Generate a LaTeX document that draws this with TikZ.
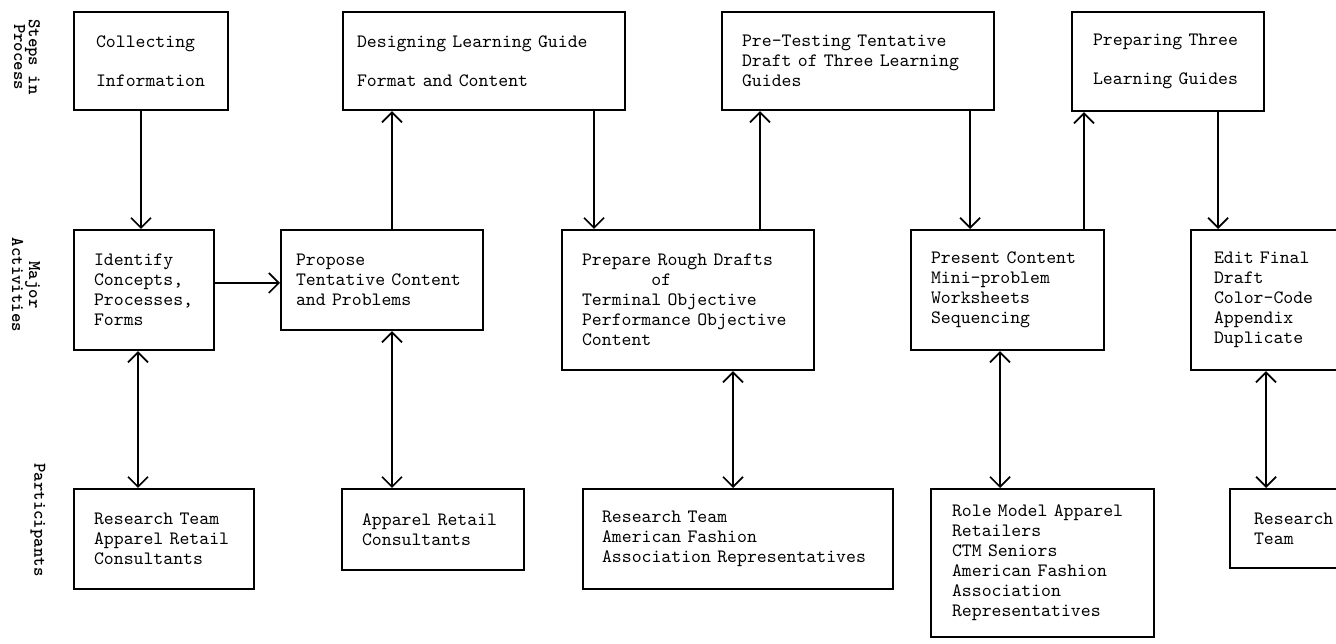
\documentclass[tikz,border=0pt]{standalone}
\usepackage{fontspec}
\usepackage{tikz}
\usetikzlibrary{arrows.meta,positioning}
\tikzset{
  stepbox/.style={draw,line width=1.2pt,anchor=north west,align=left,
    inner sep=0pt},
  rowlabel/.style={rotate=-90,align=center,
    font=\ttfamily\bfseries\fontsize{10.2}{8.5}\selectfont},
  every node/.style={font=\ttfamily\fontsize{10.74}{11.38}\selectfont}
}
\tikzstyle{flow} = [line width=1pt,-{Straight Barb[length=2mm,width=4mm]}]
\tikzstyle{twoway} = [line width=1pt,
  {Straight Barb[length=2mm,width=4mm]}-{Straight Barb[length=2mm,width=4mm]}]

\begin{document}
\begin{tikzpicture}[x=0.02cm,y=-0.02cm]
  \useasboundingbox (0,0) rectangle (1336,644);
  % Row labels
  \node[rowlabel] (lsteps) at (27,57) {Steps in\\Process};
  \node[rowlabel] (lmajor) at (26,285) {Major\\Activities};
  \node[rowlabel] (lpart) at (38,520) {Participants};
  % Steps in process
  \node[stepbox,minimum width=3.08cm,minimum height=1.96cm,text width=2.20cm]
    (a1) at (73,11) {Collecting\\[0.38cm]Information};
  \node[stepbox,minimum width=5.64cm,minimum height=1.96cm,text width=5.08cm]
    (b1) at (342,11) {Designing Learning Guide\\[0.38cm]Format and Content};
  \node[stepbox,minimum width=5.44cm,minimum height=1.96cm,text width=4.64cm]
    (c1) at (721,11) {Pre-Testing Tentative\\Draft of Three Learning\\Guides};
  \node[stepbox,minimum width=3.84cm,minimum height=1.98cm,text width=3.00cm]
    (d1) at (1071,11) {Preparing Three\\[0.38cm]Learning Guides};
  % Major activities
  \node[stepbox,minimum width=2.80cm,minimum height=2.40cm,text width=2.00cm]
    (a2) at (73,229) {Identify\\Concepts,\\Processes,\\Forms};
  \node[stepbox,minimum width=4.04cm,minimum height=2.00cm,text width=3.44cm]
    (b2) at (280,229) {Propose\\Tentative Content\\and Problems};
  \node[stepbox,minimum width=5.04cm,minimum height=2.80cm,text width=4.24cm]
    (c2) at (561,229) {Prepare Rough Drafts\\\hphantom{Prepare}of\\
      Terminal Objective\\Performance Objective\\Content};
  \node[stepbox,minimum width=3.86cm,minimum height=2.40cm,text width=3.06cm]
    (d2) at (910,229) {Present Content\\Mini-problem\\Worksheets\\Sequencing};
  \node[stepbox,minimum width=3.10cm,minimum height=2.80cm,text width=2.18cm]
    (e2) at (1190,229) {Edit Final\\Draft\\Color-Code\\Appendix\\Duplicate};
  % Participants
  \node[stepbox,minimum width=3.60cm,minimum height=2.00cm,text width=2.80cm]
    (a3) at (73,488) {Research Team\\Apparel Retail\\Consultants};
  \node[stepbox,minimum width=3.64cm,minimum height=1.62cm,text width=2.84cm]
    (b3) at (341,488) {Apparel Retail\\Consultants};
  \node[stepbox,minimum width=6.20cm,minimum height=2.00cm,text width=5.44cm]
    (c3) at (582,488) {Research Team\\American Fashion\\Association Representatives};
  \node[stepbox,minimum width=4.46cm,minimum height=2.96cm,text width=3.62cm]
    (d3) at (930,488) {Role Model Apparel\\Retailers\\CTM Seniors\\
      American Fashion\\Association\\Representatives};
  \node[stepbox,minimum width=2.80cm,minimum height=1.58cm,text width=1.84cm]
    (e3) at (1229,488) {Research\\Team};
  % Connectors between steps and activities
  \draw[flow] (a1.south -| 141,0) -- (a2.north -| 141,0);
  \draw[flow] (a2.east |- 0,283) -- (b2.west |- 0,283);
  \draw[flow] (b2.north -| 392,0) -- (b1.south -| 392,0);
  \draw[flow] (b1.south -| 594,0) -- (c2.north -| 594,0);
  \draw[flow] (c2.north -| 760,0) -- (c1.south -| 760,0);
  \draw[flow] (c1.south -| 970,0) -- (d2.north -| 970,0);
  \draw[flow] (d2.north -| 1084,0) -- (d1.south -| 1084,0);
  \draw[flow] (d1.south -| 1218,0) -- (e2.north -| 1218,0);
  % Connectors to participants
  \draw[twoway] (a2.south -| 138,0) -- (a3.north -| 138,0);
  \draw[twoway] (b2.south -| 392,0) -- (b3.north -| 392,0);
  \draw[twoway] (c2.south -| 733,0) -- (c3.north -| 733,0);
  \draw[twoway] (d2.south -| 1000,0) -- (d3.north -| 1000,0);
  \draw[twoway] (e2.south -| 1266,0) -- (e3.north -| 1266,0);
\end{tikzpicture}
\end{document}
